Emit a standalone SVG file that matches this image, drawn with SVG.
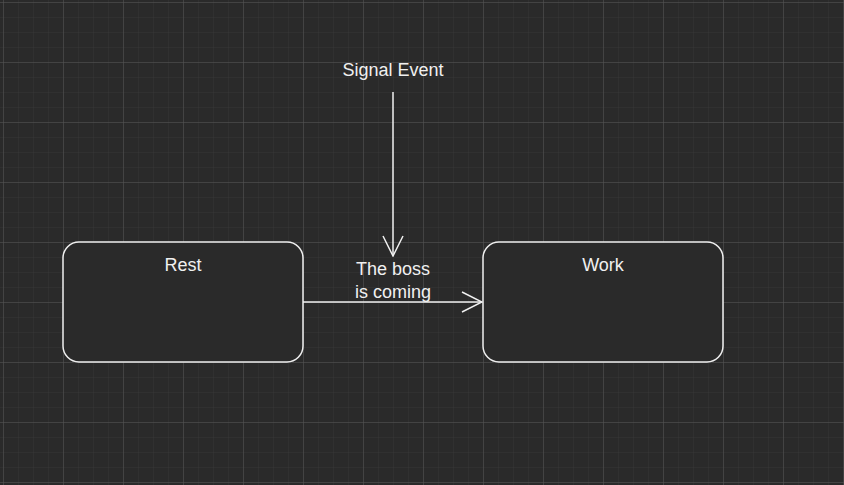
<svg xmlns="http://www.w3.org/2000/svg" width="844" height="485" viewBox="0 0 844 485">
  <defs>
    <pattern id="minor" x="3" y="2" width="15" height="15" patternUnits="userSpaceOnUse">
      <path d="M0 0H15M0 0V15" fill="none" stroke="#363636" stroke-width="1"/>
    </pattern>
    <pattern id="major" x="3" y="2" width="60" height="60" patternUnits="userSpaceOnUse">
      <path d="M0 0H60M0 0V60" fill="none" stroke="#555555" stroke-width="1"/>
    </pattern>
    <marker id="open" viewBox="0 0 22 22" refX="21" refY="11" markerWidth="22" markerHeight="22" markerUnits="userSpaceOnUse" orient="auto">
      <path d="M1 1L21 11L1 21" fill="none" stroke="#f0f0f0" stroke-width="1.5"/>
    </marker>
    <style>
      .node rect { fill: #2a2a2a; stroke: #f0f0f0; stroke-width: 1.5; }
      .edge { fill: none; stroke: #f0f0f0; stroke-width: 1.5; marker-end: url(#open); }
      text { font-family: "Liberation Sans", Arial, sans-serif; font-size: 18px; fill: #f0f0f0; text-anchor: middle; }
    </style>
  </defs>
  <rect width="844" height="485" fill="#2a2a2a"/>
  <rect width="844" height="485" fill="url(#minor)"/>
  <rect width="844" height="485" fill="url(#major)"/>

  <g id="connectors">
    <path class="edge" d="M393 92V256"/>
    <path class="edge" d="M303 302H482"/>
    <text x="393" y="275">The boss</text>
    <text x="393" y="298">is coming</text>
  </g>

  <g id="signal-event">
    <text x="393" y="76">Signal Event</text>
  </g>

  <g id="rest" class="node">
    <rect x="63" y="242" width="240" height="120" rx="16" ry="16"/>
    <text x="183" y="271">Rest</text>
  </g>

  <g id="work" class="node">
    <rect x="483" y="242" width="240" height="120" rx="16" ry="16"/>
    <text x="603" y="271">Work</text>
  </g>
</svg>
